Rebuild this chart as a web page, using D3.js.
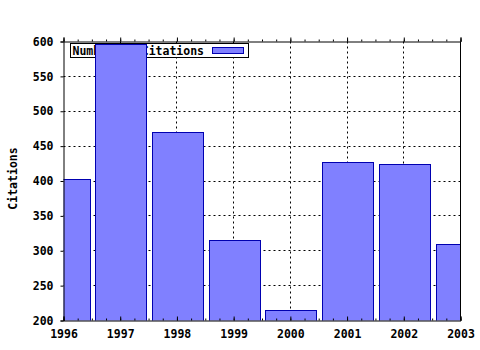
<!DOCTYPE html>
<html>
<head>
<meta charset="utf-8">
<script src="https://cdn.jsdelivr.net/npm/d3@7"></script>
<style>
  body { margin: 0; background: #fff; }
  svg text { font-family: "DejaVu Sans Mono", monospace; font-weight: bold; font-size: 11.5px; fill: #000; }
</style>
</head>
<body>
<div id="chart"></div>
<script>
const years = [1996, 1997, 1998, 1999, 2000, 2001, 2002, 2003];
const citations = [402, 596, 470, 315, 214, 427, 424, 309];
const yTicks = [200, 250, 300, 350, 400, 450, 500, 550, 600];
const seriesName = 'Number of Citations';

const width = 480, height = 350;
const margin = { top: 41, right: 20, bottom: 30, left: 63 };
const plotW = width - margin.left - margin.right;
const plotH = height - margin.top - margin.bottom;

const svg = d3.select('#chart').append('svg')
    .attr('width', width)
    .attr('height', height);

const g = svg.append('g')
    .attr('transform', `translate(${margin.left + 0.5},${margin.top + 0.5})`);

const x = d3.scaleLinear().domain([1996, 2003]).range([0, plotW]);
const y = d3.scaleLinear().domain([200, 600]).range([plotH, 0]);
const barW = 51;

g.append('clipPath').attr('id', 'plot-clip')
    .append('rect').attr('x', 0).attr('y', 0).attr('width', plotW).attr('height', plotH);

// grid
g.append('g').selectAll('line')
    .data(yTicks.filter(d => d > 200 && d < 600))
    .enter().append('line')
    .attr('x1', 0).attr('x2', plotW)
    .attr('y1', d => Math.round(y(d))).attr('y2', d => Math.round(y(d)))
    .attr('stroke', '#000').attr('stroke-dasharray', '2,3');

g.append('g').selectAll('line')
    .data(years.slice(1, -1))
    .enter().append('line')
    .attr('x1', d => Math.round(x(d))).attr('x2', d => Math.round(x(d)))
    .attr('y1', 0).attr('y2', plotH)
    .attr('stroke', '#000').attr('stroke-dasharray', '2,3');

// legend (drawn under the bars)
const legend = g.append('g').attr('transform', 'translate(7,2)');
legend.append('rect')
    .attr('width', 178).attr('height', 14)
    .attr('fill', '#fff').attr('stroke', '#000');
legend.append('text')
    .attr('x', 2).attr('y', 11)
    .text(seriesName);
legend.append('rect')
    .attr('x', 142).attr('y', 4).attr('width', 31).attr('height', 6)
    .attr('fill', '#8080ff').attr('stroke', '#0000b0');

// bars
g.append('g').attr('clip-path', 'url(#plot-clip)')
    .selectAll('rect')
    .data(years)
    .enter().append('rect')
    .attr('x', d => Math.round(x(d) - barW / 2) + 1)
    .attr('y', (d, i) => Math.round(y(citations[i])))
    .attr('width', barW)
    .attr('height', (d, i) => plotH + 5 - Math.round(y(citations[i])))
    .attr('fill', '#8080ff')
    .attr('stroke', '#0000b0');

// axes
const minorX = d3.range(0, 29).map(i => 1996 + i * 0.25);

const xAxis = d3.axisBottom(x)
    .tickValues(years)
    .tickSize(-4)
    .tickPadding(9)
    .tickFormat(d3.format('d'));
const xAxisG = g.append('g').attr('transform', `translate(0,${plotH})`).call(xAxis);
xAxisG.select('.domain').attr('stroke', '#000');
xAxisG.selectAll('.tick line').attr('stroke', '#000');
xAxisG.selectAll('text').attr('dy', '0.71em');

g.append('g').attr('transform', `translate(0,${plotH})`)
    .call(d3.axisBottom(x).tickValues(minorX).tickSize(-2).tickFormat(''))
    .select('.domain').remove();

const topAxisG = g.append('g')
    .call(d3.axisTop(x).tickValues(years).tickSize(4).tickFormat(''));
topAxisG.select('.domain').attr('stroke', '#000');
g.append('g')
    .call(d3.axisTop(x).tickValues(minorX).tickSize(2).tickFormat(''))
    .select('.domain').remove();

const yAxis = d3.axisLeft(y)
    .tickValues(yTicks)
    .tickSize(3)
    .tickPadding(7);
const yAxisG = g.append('g').call(yAxis);
yAxisG.select('.domain').attr('stroke', '#000');

g.append('line')
    .attr('x1', plotW).attr('x2', plotW)
    .attr('y1', 0).attr('y2', plotH)
    .attr('stroke', '#000');

svg.append('text')
    .attr('text-anchor', 'middle')
    .attr('transform', `translate(17,${margin.top + plotH / 2 - 2}) rotate(-90)`)
    .text('Citations');
</script>
</body>
</html>
